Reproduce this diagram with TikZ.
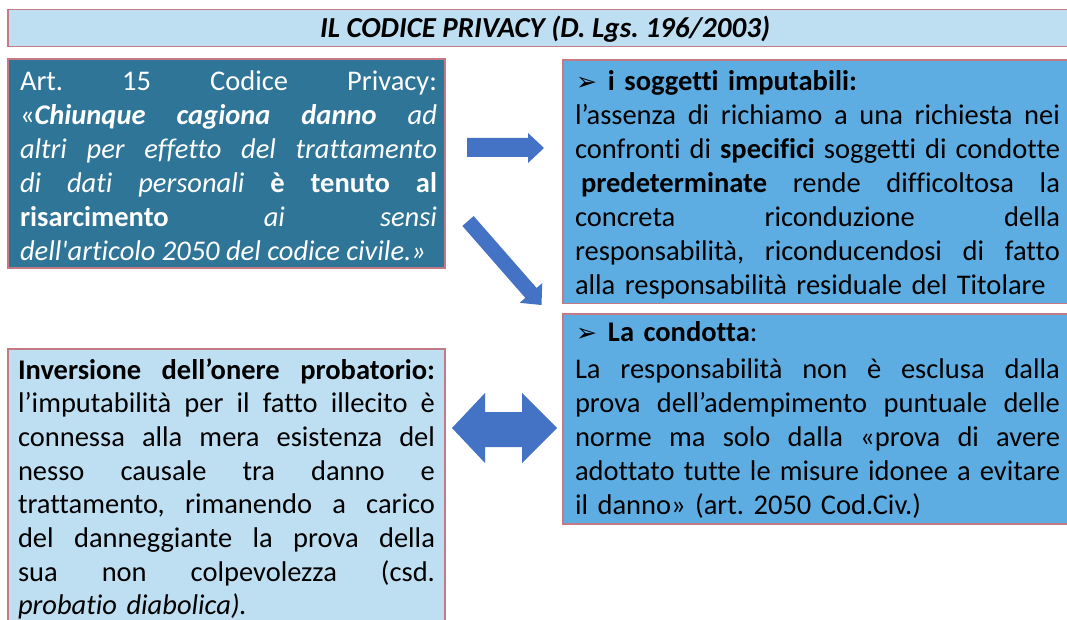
\documentclass[tikz,border=0pt]{standalone}
\usepackage{fontspec}
\setmainfont{Carlito}[Ligatures={NoCommon}]
\newfontfamily\dingfont{DejaVu Sans}
\usetikzlibrary{calc}
\definecolor{titlefill}{HTML}{BEDFF2}
\definecolor{tealfill}{HTML}{2F7598}
\definecolor{midfill}{HTML}{5DADE2}
\definecolor{lightfill}{HTML}{BEDFF2}
\definecolor{bordercol}{HTML}{C47A84}
\definecolor{arrowblue}{HTML}{4472C4}
\frenchspacing
\newcommand\jline[1]{{\spaceskip=0pt\xspaceskip=0pt\makebox[\hsize][s]{#1}}}
\newcommand\tightline[2]{{\spaceskip=0.08em plus 1em\xspaceskip=0.08em plus 1em\makebox[#1][s]{#2}}}
\newcommand\bul{\hspace*{1pt}{\dingfont\fontsize{25}{34}\selectfont ➢}\hspace{11pt}}
\begin{document}
\begin{tikzpicture}[x=1pt,y=-1pt,
  frame/.style={draw=bordercol, line width=1.4pt, inner sep=0pt, outer sep=0pt, anchor=north west},
  body/.style={anchor=base west, inner sep=0pt, outer sep=0pt, align=left, font=\fontsize{28.5}{34}\selectfont\frenchspacing},
  blockarrow/.style={fill=arrowblue, draw=none}]
\useasboundingbox (0,0) rectangle (1067,620);
\fill[white] (0,0) rectangle (1067,620);

% frames
\node[frame, fill=titlefill, minimum width=1075, minimum height=37.4] (title) at (8,9.3) {};
\node[frame, fill=tealfill, minimum width=437, minimum height=209] (A) at (8,59) {};
\node[frame, fill=midfill, minimum width=520, minimum height=243.3] (B) at (563,60) {};
\node[frame, fill=midfill, minimum width=520, minimum height=210] (C) at (563,314) {};
\node[frame, fill=lightfill, minimum width=437, minimum height=300] (D) at (8,349) {};

% title
\node[anchor=base, inner sep=0pt, font=\fontsize{29}{32}\selectfont\bfseries\itshape\frenchspacing] (tt) at (545,38) {IL CODICE PRIVACY (D. Lgs. 196/2003)};

% box A text
\node[body, text width=417pt, text=white] (tA) at (20,91) {%
\jline{Art. 15 Codice Privacy:}\\
\jline{«\textbf{\textit{Chiunque cagiona danno}} \textit{ad}}\\
\jline{\textit{altri per effetto del trattamento}}\\
\jline{\textit{di dati personali} \textbf{è tenuto al}}\\
\jline{\textbf{risarcimento} \textit{ai sensi}}\\
\tightline{406pt}{\textit{dell\textquotesingle articolo 2050 del codice civile.»}}};

% box B text
\node[body, text width=485pt] (tB) at (575,91) {%
\bul\textbf{i soggetti imputabili:}\\
\jline{l’assenza di richiamo a una richiesta nei}\\
\jline{confronti di \textbf{specifici} soggetti di condotte}\\
\jline{\hspace*{6pt}\textbf{predeterminate} rende difficoltosa la}\\
\jline{concreta riconduzione della}\\
\jline{responsabilità, riconducendosi di fatto}\\
alla responsabilità residuale del Titolare};

% box C text
\node[body, text width=485pt] (tC) at (575,341) {%
\bul\textbf{La condotta}:\\[3pt]
\jline{La responsabilità non è esclusa dalla}\\
\jline{prova dell’adempimento puntuale delle}\\
\jline{norme ma solo dalla «prova di avere}\\
\jline{adottato tutte le misure idonee a evitare}\\
il danno» (art. 2050 Cod.Civ.)};

% box D text
\node[body, text width=417pt, font=\fontsize{28.5}{33.7}\selectfont] (tD) at (18,379) {%
\jline{\textbf{Inversione dell’onere probatorio:}}\\
\jline{l’imputabilità per il fatto illecito è}\\
\jline{connessa alla mera esistenza del}\\
\jline{nesso causale tra danno e}\\
\jline{trattamento, rimanendo a carico}\\
\jline{del danneggiante la prova della}\\
\jline{sua non colpevolezza (csd.}\\
\textit{probatio diabolica).}};

% arrows
\fill[blockarrow] (467,138) -- (528,138) -- (528,133) -- (544,148) -- (528,163) -- (528,157) -- (467,157) -- cycle;

\coordinate (d1) at (468,221);
\coordinate (d2) at (541.5,305);
\coordinate (dh) at ($(d2)!16pt!(d1)$);
\fill[blockarrow] ($(d1)!7.5pt!90:(d2)$) -- ($(dh)!7.5pt!90:(d2)$) -- ($(dh)!15pt!90:(d2)$) -- (d2)
  -- ($(dh)!15pt!-90:(d2)$) -- ($(dh)!7.5pt!-90:(d2)$) -- ($(d1)!7.5pt!-90:(d2)$) -- cycle;

\fill[blockarrow] (452,428) -- (485,393) -- (485,412) -- (522,412) -- (522,393) -- (557,428)
  -- (522,463) -- (522,447) -- (485,447) -- (485,463) -- cycle;
\end{tikzpicture}
\end{document}
